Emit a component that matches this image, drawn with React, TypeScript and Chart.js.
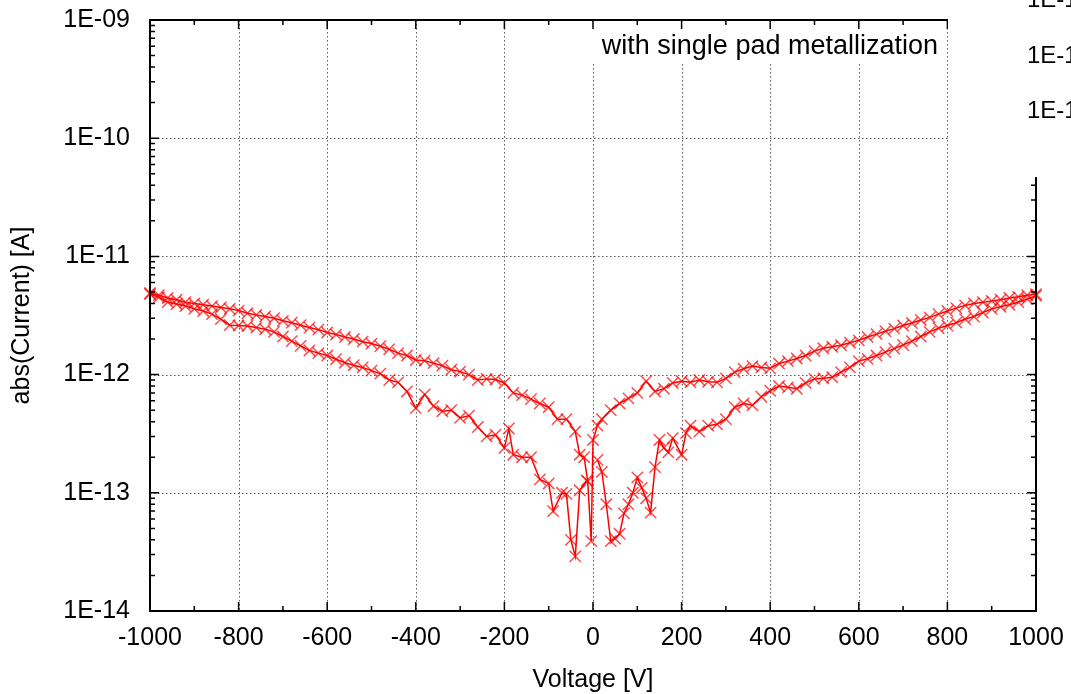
import React, { useEffect, useRef } from 'react';
import { Chart, registerables } from 'chart.js';

Chart.register(...registerables);

// Sweep 1: lower-left branch, from near 0 V out to -1000 V (current in pA)
const sweep1Voltage = [-14, -30, -40, -50, -60, -70, -90, -100, -120, -140, -160, -180, -190, -200, -220, -240, -260, -280, -300, -320, -340, -360, -380, -400, -420, -440, -460, -480, -500, -520, -540, -560, -580, -600, -620, -640, -660, -680, -700, -720, -740, -760, -780, -800, -820, -840, -860, -880, -900, -920, -940, -960, -980, -1000];
const sweep1Current = [0.127, 0.105, 0.029, 0.04, 0.098, 0.1, 0.07, 0.12, 0.13, 0.2, 0.2, 0.21, 0.35, 0.24, 0.31, 0.3, 0.36, 0.45, 0.43, 0.5, 0.49, 0.54, 0.68, 0.52, 0.72, 0.86, 0.9, 1.02, 1.08, 1.15, 1.2, 1.26, 1.35, 1.45, 1.52, 1.6, 1.75, 1.92, 2.1, 2.3, 2.42, 2.5, 2.58, 2.6, 2.62, 2.95, 3.25, 3.45, 3.6, 3.8, 3.95, 4.1, 4.5, 4.8];

// Sweep 2: upper-left branch, from -1000 V back to 0 V
const sweep2Voltage = [-1000, -980, -960, -940, -920, -900, -880, -860, -840, -820, -800, -780, -760, -740, -720, -700, -680, -660, -640, -620, -600, -580, -560, -540, -520, -500, -480, -460, -440, -420, -400, -380, -360, -340, -320, -300, -280, -260, -240, -220, -200, -180, -160, -140, -120, -100, -80, -60, -40, -30, -20, -12, -4];
const sweep2Current = [4.9, 4.7, 4.45, 4.3, 4.1, 4.0, 3.9, 3.8, 3.7, 3.6, 3.48, 3.3, 3.2, 3.1, 3.0, 2.85, 2.75, 2.62, 2.5, 2.4, 2.27, 2.18, 2.08, 2.0, 1.9, 1.83, 1.74, 1.64, 1.52, 1.45, 1.33, 1.31, 1.25, 1.19, 1.1, 1.06, 1.0, 0.9, 0.92, 0.91, 0.85, 0.7, 0.67, 0.62, 0.57, 0.53, 0.42, 0.42, 0.33, 0.21, 0.2, 0.125, 0.039];

// Sweep 3: upper-right branch, from 0 V to +1000 V
const sweep3Voltage = [0, 10, 20, 40, 60, 80, 100, 120, 140, 160, 180, 200, 220, 240, 260, 280, 300, 320, 340, 360, 380, 400, 420, 440, 460, 480, 500, 520, 540, 560, 580, 600, 620, 640, 660, 680, 700, 720, 740, 760, 780, 800, 820, 840, 860, 880, 900, 920, 940, 960, 980, 1000];
const sweep3Current = [0.28, 0.37, 0.42, 0.5, 0.57, 0.63, 0.7, 0.88, 0.72, 0.76, 0.85, 0.88, 0.86, 0.9, 0.87, 0.86, 0.93, 1.05, 1.12, 1.18, 1.15, 1.13, 1.24, 1.3, 1.37, 1.45, 1.58, 1.67, 1.72, 1.77, 1.86, 1.95, 2.08, 2.2, 2.33, 2.45, 2.6, 2.73, 2.9, 3.05, 3.25, 3.45, 3.65, 3.85, 4.0, 4.1, 4.2, 4.3, 4.45, 4.55, 4.7, 4.8];

// Sweep 4: lower-right branch, from +1000 V back to 0 V
const sweep4Voltage = [1000, 980, 960, 940, 920, 900, 880, 860, 840, 820, 800, 780, 760, 740, 720, 700, 680, 660, 640, 620, 600, 580, 560, 540, 520, 500, 480, 460, 440, 420, 400, 380, 360, 340, 320, 300, 280, 260, 240, 220, 210, 200, 180, 170, 160, 150, 140, 130, 120, 110, 100, 90, 80, 70, 60, 50, 40, 30, 20, 10];
const sweep4Current = [4.65, 4.35, 4.1, 3.9, 3.75, 3.6, 3.35, 3.1, 2.95, 2.75, 2.6, 2.47, 2.3, 2.1, 1.92, 1.78, 1.66, 1.55, 1.45, 1.36, 1.3, 1.15, 1.05, 0.95, 0.93, 0.92, 0.85, 0.76, 0.78, 0.8, 0.73, 0.65, 0.55, 0.57, 0.53, 0.42, 0.38, 0.37, 0.33, 0.37, 0.32, 0.21, 0.29, 0.22, 0.24, 0.28, 0.165, 0.068, 0.09, 0.11, 0.135, 0.1, 0.08, 0.067, 0.045, 0.041, 0.039, 0.08, 0.15, 0.19];

const xTickValues = [-1000, -800, -600, -400, -200, 0, 200, 400, 600, 800, 1000];
const yDecadeExponents = [-14, -13, -12, -11, -10, -9];
const xLabel = 'Voltage [V]';
const yLabel = 'abs(Current) [A]';
const annotation = 'with single pad metallization';
const strayLabels = ['1E-1', '1E-1', '1E-1'];

const FONT = '"Liberation Sans", Arial, Helvetica, sans-serif';

function fmtDecade(v: number): string {
  const e = Math.round(Math.log10(v));
  const m = v / Math.pow(10, e);
  if (Math.abs(m - 1) > 1e-6) return '';
  return '1E' + (e < 0 ? '-' : '+') + String(Math.abs(e)).padStart(2, '0');
}

export default function App() {
  const ref = useRef<HTMLCanvasElement>(null);

  useEffect(() => {
    document.body.style.margin = '0';
    const volts = [...sweep1Voltage, ...sweep2Voltage, ...sweep3Voltage, ...sweep4Voltage];
    const amps = [...sweep1Current, ...sweep2Current, ...sweep3Current, ...sweep4Current];
    const points = volts.map((v, i) => ({ x: v, y: amps[i] * 1e-12 }));

    const decor = {
      id: 'decor',
      beforeDatasetsDraw(chart: any) {
        const { ctx, chartArea: a, scales } = chart;
        const xs = scales.x, ys = scales.y;
        ctx.save();
        ctx.strokeStyle = '#5a5a5a';
        ctx.lineWidth = 1;
        ctx.setLineDash([1.5, 2.5]);
        for (const v of xTickValues) {
          if (v === -1000 || v === 1000) continue;
          const px = Math.round(xs.getPixelForValue(v)) + 0.5;
          ctx.beginPath();
          ctx.moveTo(px, a.top);
          ctx.lineTo(px, a.bottom);
          ctx.stroke();
        }
        for (const e of yDecadeExponents) {
          if (e === -14 || e === -9) continue;
          const py = Math.round(ys.getPixelForValue(Math.pow(10, e))) + 0.5;
          ctx.beginPath();
          ctx.moveTo(a.left, py);
          ctx.lineTo(a.right, py);
          ctx.stroke();
        }
        ctx.setLineDash([]);
        ctx.fillStyle = '#fff';
        ctx.fillRect(580, a.top + 1, 947 - 580, 42);
        ctx.restore();
      },
      afterDatasetsDraw(chart: any) {
        const { ctx, chartArea: a, scales } = chart;
        const xs = scales.x, ys = scales.y;
        ctx.save();
        ctx.strokeStyle = '#000';
        ctx.lineWidth = 2;
        ctx.strokeRect(a.left, a.top, a.right - a.left, a.bottom - a.top);
        ctx.lineWidth = 1.5;
        for (let v = -1000; v <= 1000; v += 100) {
          const px = xs.getPixelForValue(v);
          const len = v % 200 === 0 ? 9 : 5;
          ctx.beginPath();
          ctx.moveTo(px, a.bottom);
          ctx.lineTo(px, a.bottom - len);
          ctx.moveTo(px, a.top);
          ctx.lineTo(px, a.top + len);
          ctx.stroke();
        }
        for (let e = -14; e <= -9; e++) {
          for (let m = 1; m <= 9; m++) {
            const val = m * Math.pow(10, e);
            if (val > 1.0001e-9) continue;
            const py = ys.getPixelForValue(val);
            const len = m === 1 ? 9 : 5;
            ctx.beginPath();
            ctx.moveTo(a.left, py);
            ctx.lineTo(a.left + len, py);
            ctx.moveTo(a.right, py);
            ctx.lineTo(a.right - len, py);
            ctx.stroke();
          }
        }
        ctx.fillStyle = '#000';
        ctx.font = `25px ${FONT}`;
        ctx.textAlign = 'center';
        ctx.textBaseline = 'middle';
        ctx.fillText(xLabel, (a.left + a.right) / 2, 680);
        ctx.save();
        ctx.translate(22, (a.top + a.bottom) / 2);
        ctx.rotate(-Math.PI / 2);
        ctx.fillText(yLabel, 0, 0);
        ctx.restore();
        ctx.font = `27px ${FONT}`;
        ctx.textAlign = 'right';
        ctx.textBaseline = 'alphabetic';
        ctx.fillText(annotation, 938, 54);
        ctx.fillStyle = '#fff';
        ctx.fillRect(948, 0, chart.width - 948, 177);
        ctx.fillStyle = '#000';
        ctx.textAlign = 'left';
        ctx.font = `24px ${FONT}`;
        const ys2 = [7, 63, 118];
        strayLabels.forEach((t, i) => ctx.fillText(t, 1027, ys2[i]));
        ctx.restore();
      },
    };

    const chart = new Chart(ref.current as HTMLCanvasElement, {
      type: 'scatter',
      data: {
        datasets: [
          {
            data: points,
            showLine: true,
            borderColor: '#ff0000',
            borderWidth: 1.5,
            pointStyle: 'crossRot',
            pointRadius: 8,
            pointBorderColor: 'rgba(255,0,0,0.7)',
            pointBackgroundColor: 'rgba(255,0,0,0.7)',
            pointBorderWidth: 1.5,
            clip: false,
          } as any,
        ],
      },
      options: {
        animation: false,
        responsive: false,
        layout: { padding: { left: 0, right: 35, top: 20, bottom: 0 } },
        plugins: { legend: { display: false }, tooltip: { enabled: false } },
        scales: {
          x: {
            type: 'linear',
            min: -1000,
            max: 1000,
            ticks: {
              stepSize: 200,
              autoSkip: false,
              maxRotation: 0,
              padding: 4,
              color: '#000',
              font: { family: FONT, size: 25 },
              callback: (v: any) => String(v),
            },
            grid: { display: false },
            border: { display: false },
            afterFit: (s: any) => { s.height = 83; s.paddingLeft = 0; s.paddingRight = 0; },
          },
          y: {
            type: 'logarithmic',
            min: 1e-14,
            max: 1e-9,
            ticks: {
              autoSkip: false,
              padding: 12,
              color: '#000',
              font: { family: FONT, size: 25 },
              callback: (v: any) => fmtDecade(Number(v)),
            },
            grid: { display: false },
            border: { display: false },
            afterFit: (s: any) => { s.width = 150; s.paddingTop = 0; s.paddingBottom = 0; },
          },
        },
      } as any,
      plugins: [decor],
    });
    return () => chart.destroy();
  }, []);

  return <canvas ref={ref} width={1071} height={694} style={{ display: 'block' }} />;
}
